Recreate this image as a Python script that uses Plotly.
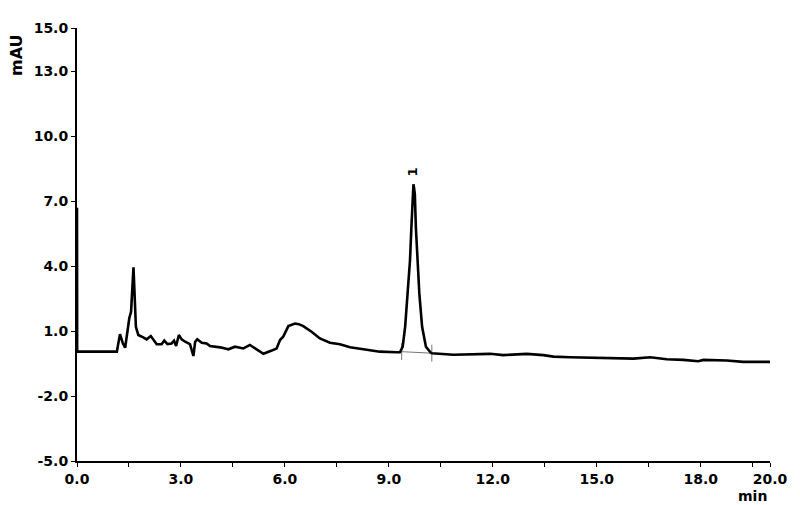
import plotly.graph_objects as go

# Chromatogram signal (time in min, absorbance in mAU)
time_min = [0.0, 0.005, 0.5, 1.0, 1.15, 1.24, 1.32, 1.39, 1.51, 1.56, 1.63, 1.70, 1.77,
            1.91, 2.01, 2.13, 2.20, 2.30, 2.44, 2.52, 2.61, 2.73, 2.80, 2.86, 2.94,
            3.02, 3.12, 3.26, 3.36, 3.41, 3.47, 3.60, 3.74, 3.84, 4.13, 4.37, 4.56,
            4.80, 4.99, 5.19, 5.38, 5.62, 5.76, 5.86, 5.95, 6.10, 6.20, 6.29, 6.40,
            6.53, 6.77, 7.01, 7.30, 7.59, 7.88, 8.26, 8.74, 9.23, 9.32, 9.40, 9.47,
            9.54, 9.61, 9.65, 9.68, 9.695, 9.71, 9.725, 9.75, 9.78, 9.83, 9.88, 9.96,
            10.07, 10.21,
            10.24, 10.86, 11.34, 11.92, 12.30, 12.98, 13.46, 13.75, 14.23, 14.90,
            15.47, 16.06, 16.54, 17.02, 17.50, 17.93, 18.08, 18.75, 19.23, 19.62, 20.0]
signal_mau = [6.7, 0.05, 0.05, 0.05, 0.05, 0.86, 0.45, 0.23, 1.6, 1.89, 3.95, 1.2, 0.82,
              0.71, 0.62, 0.77, 0.59, 0.39, 0.39, 0.56, 0.40, 0.43, 0.56, 0.31, 0.82,
              0.62, 0.51, 0.40, -0.15, 0.51, 0.62, 0.46, 0.43, 0.31, 0.25, 0.16, 0.28,
              0.20, 0.36, 0.13, -0.05, 0.10, 0.20, 0.59, 0.74, 1.23, 1.30, 1.35, 1.32,
              1.23, 0.97, 0.66, 0.46, 0.39, 0.25, 0.16, 0.05, 0.02, 0.02, 0.28, 1.2,
              2.73, 4.26, 5.78, 7.32, 7.65, 7.78, 7.65, 7.32, 5.78, 4.26, 2.73, 1.2,
              0.28, 0.0,
              -0.02, -0.09, -0.07, -0.05, -0.11, -0.05, -0.11, -0.18, -0.21, -0.24,
              -0.27, -0.27, -0.21, -0.30, -0.33, -0.39, -0.33, -0.36, -0.42, -0.41, -0.42]

# Integrated peak
peak_labels = ["1"]
peak_rt = [9.71]
peak_label_y = [8.35]
baseline_t = [9.37, 10.24]
baseline_y = [0.05, -0.02]

x_ticks = [0, 3, 6, 9, 12, 15, 18, 20]
x_tick_text = ["0.0", "3.0", "6.0", "9.0", "12.0", "15.0", "18.0", "20.0"]
x_minor = [1.5, 4.5, 7.5, 10.5, 13.5, 16.5, 19.5]
y_ticks = [-5, -2, 1, 4, 7, 10, 13, 15]
y_tick_text = ["-5.0", "-2.0", "1.0", "4.0", "7.0", "10.0", "13.0", "15.0"]

FONT = "DejaVu Sans"

fig = go.Figure()
fig.add_trace(go.Scatter(x=baseline_t, y=baseline_y, mode="lines+markers",
                         line=dict(color="#777777", width=1),
                         marker=dict(symbol="line-ns-open", size=12,
                                     line=dict(color="#555555", width=1)),
                         hoverinfo="skip", showlegend=False))
fig.add_trace(go.Scatter(x=time_min, y=signal_mau, mode="lines",
                         line=dict(color="black", width=2.6),
                         showlegend=False))
for lab, t, yy in zip(peak_labels, peak_rt, peak_label_y):
    fig.add_annotation(x=t, y=yy, text="<b>%s</b>" % lab, showarrow=False, textangle=-90,
                       font=dict(family=FONT, size=13, color="black"))

fig.add_annotation(xref="paper", yref="paper", x=-0.087, y=0.937, text="<b>mAU</b>",
                   textangle=-90, showarrow=False, xanchor="center", yanchor="middle",
                   font=dict(family=FONT, size=16, color="black"))
fig.add_annotation(xref="paper", yref="paper", x=0.975, y=-0.08, text="<b>min</b>",
                   showarrow=False, xanchor="center", yanchor="middle",
                   font=dict(family=FONT, size=14, color="black"))

fig.update_layout(
    width=800, height=505,
    margin=dict(l=69, r=38, t=17, b=52),
    paper_bgcolor="white", plot_bgcolor="white",
    font=dict(family=FONT, size=14, color="black"),
    xaxis=dict(range=[0, 20], tickmode="array", tickvals=x_ticks,
               ticktext=["<b>%s</b>" % t for t in x_tick_text],
               showgrid=False, zeroline=False, showline=True,
               linecolor="black", linewidth=1.5, ticks="outside", ticklen=4,
               tickcolor="black", tickwidth=1.2,
               minor=dict(tickmode="array", tickvals=x_minor, ticks="outside",
                          ticklen=4, tickcolor="black", tickwidth=1, showgrid=False)),
    yaxis=dict(range=[-5, 15], tickmode="array", tickvals=y_ticks,
               ticktext=["<b>%s</b>" % t for t in y_tick_text],
               showgrid=False, zeroline=False, showline=True,
               linecolor="black", linewidth=2, ticks="outside", ticklen=4,
               tickcolor="black", tickwidth=1.2),
)

fig.write_html("out.html")
